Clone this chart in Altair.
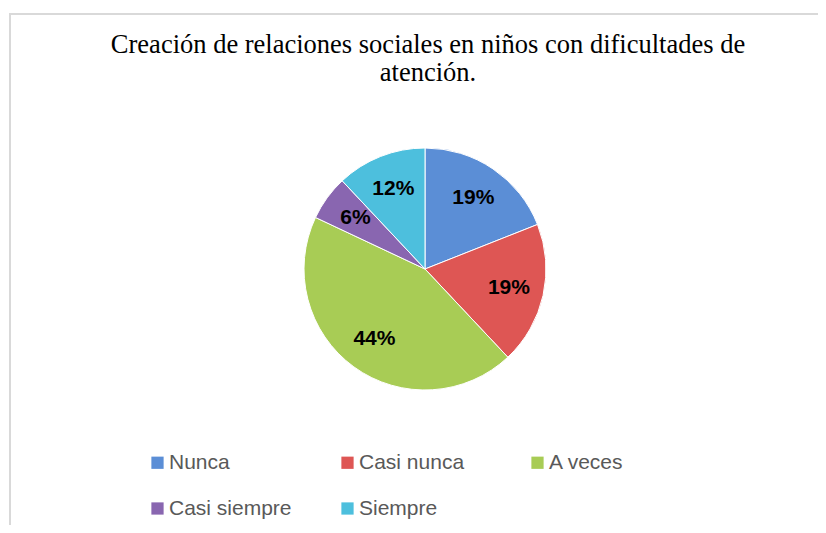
import altair as alt
import pandas as pd

categories = ["Nunca", "Casi nunca", "A veces", "Casi siempre", "Siempre"]
percentages = [19, 19, 44, 6, 12]
labels = ["19%", "19%", "44%", "6%", "12%"]
colors = ["#5B8ED6", "#DE5654", "#A8CC55", "#8966B0", "#4DBFDD"]

df = pd.DataFrame({
    "categoria": categories,
    "porcentaje": percentages,
    "etiqueta": labels,
    "orden": list(range(len(categories))),
})

CX, CY = 416, 261

base = alt.Chart(df).encode(
    theta=alt.Theta("porcentaje:Q", stack=True),
    order=alt.Order("orden:Q"),
)

pie = base.mark_arc(outerRadius=121, stroke="#ffffff", strokeWidth=1).encode(
    x=alt.value(CX),
    y=alt.value(CY),
    color=alt.Color(
        "categoria:N",
        scale=alt.Scale(domain=categories, range=colors),
        sort=categories,
        legend=alt.Legend(
            title=None,
            orient="none",
            legendX=138,
            legendY=444,
            direction="horizontal",
            columns=3,
            gridAlign="all",
            columnPadding=45,
            rowPadding=24,
            symbolType="square",
            symbolSize=150,
            symbolStrokeWidth=0,
            labelFont="Liberation Sans",
            labelFontSize=21,
            labelColor="#595959",
            labelOffset=1,
            labelLimit=300,
        ),
    ),
)

text = base.mark_text(
    radius=86,
    font="Liberation Sans",
    fontSize=21,
    fontWeight="bold",
    color="#000000",
).encode(
    x=alt.value(CX),
    y=alt.value(CY),
    text="etiqueta:N",
)

border = alt.Chart(alt.Data(values=[{"a": 1}])).mark_rule(color="#d9d9d9", strokeWidth=2).encode(
    x=alt.value(1), y=alt.value(5), y2=alt.value(517)
)
border_top = alt.Chart(alt.Data(values=[{"a": 1}])).mark_rule(color="#d9d9d9", strokeWidth=2).encode(
    x=alt.value(0), x2=alt.value(810), y=alt.value(6)
)

chart = alt.layer(border, border_top, pie, text).properties(
    width=810,
    height=517,
    padding=0,
    background="#ffffff",
    autosize=alt.AutoSizeParams(type="fit", contains="padding"),
    title=alt.TitleParams(
        text=["Creación de relaciones sociales en niños con dificultades de", "atención."],
        font="Liberation Serif",
        fontSize=26.5,
        fontWeight="normal",
        color="#000000",
        anchor="middle",
        lineHeight=28,
        offset=-78,
        dx=15,
    ),
).configure_view(stroke=None)

chart.save("out.html", embed_options={"renderer": "svg", "actions": False})
